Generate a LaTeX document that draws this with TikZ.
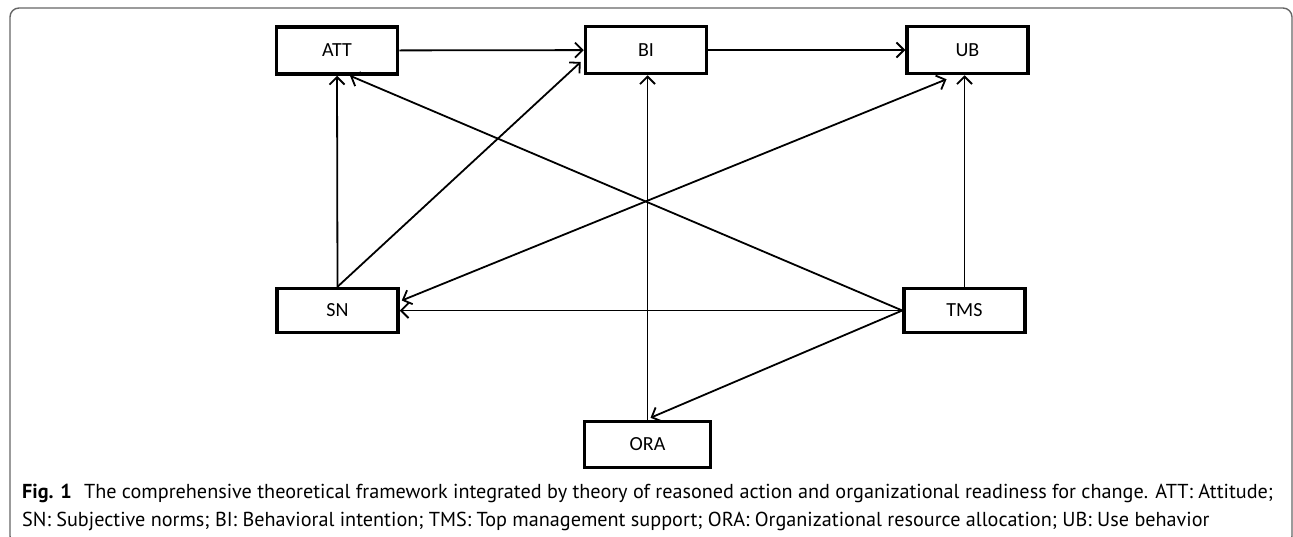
\documentclass[tikz,border=0pt]{standalone}
\usepackage{fontspec}
\setmainfont{Carlito}
\newfontfamily\capfont{PT Sans}
\usetikzlibrary{arrows.meta,calc}
\begin{document}
\begin{tikzpicture}[x=1pt,y=-1pt,
  box/.style={draw,line width=3.5pt,inner sep=0pt,minimum width=121pt,minimum height=47pt,font=\fontsize{20}{20}\selectfont},
  conn/.style={line width=1.8pt,-{Straight Barb[length=7.5pt,width=15pt,line width=1.8pt]}},
  biconn/.style={line width=1.8pt,{Straight Barb[length=7.5pt,width=15pt,line width=1.8pt]}-{Straight Barb[length=7.5pt,width=15pt,line width=1.8pt]}},
  frameline/.style={draw=black!60,line width=1.4pt,rounded corners=9pt},
  captext/.style={anchor=base west,inner sep=0pt,font=\capfont\fontsize{20.2}{20.2}\selectfont}]
\useasboundingbox (0,0) rectangle (1293,536);
\draw[frameline] (10,8) rectangle (1292,545);
\node[box] (ATT) at (337,50.5) {ATT};
\node[box] (BI) at (646,50) {BI};
\node[box] (UB) at (967.5,50) {UB};
\node[box,minimum height=44pt] (SN) at (337.5,310.5) {SN};
\node[box,minimum height=44pt] (TMS) at (964.5,310.5) {TMS};
\node[box,minimum width=126pt,minimum height=46pt] (ORA) at (647.5,444.5) {ORA};
\coordinate (X) at (647,202);
\draw[conn] (ATT) -- (BI);
\draw[conn] (BI) -- (UB);
\draw[conn] (SN.north) -- (ATT.south);
\draw[conn] (SN.north) -- ($(BI.west)+(-3,12)$);
\draw[conn] (TMS.west) -- (intersection of TMS.west--X and ATT.south west--ATT.south east);
\draw[conn] (TMS.north) -- (TMS.north |- UB.south);
\draw[conn] (TMS.west) -- (SN.east);
\draw[conn] (ORA.north) -- (ORA.north |- BI.south);
\draw[conn] (TMS.west) -- ($(ORA.north)+(3,-2)$);
\draw[biconn] ($(SN.east)+(2,-10)$) -- ($(UB.south)+(-21,4)$);
\node[captext] (c1) at (22,498) {\textbf{Fig. 1}\hspace{0.6em}The comprehensive theoretical framework integrated by theory of reasoned action and organizational readiness for change. ATT: Attitude;};
\node[captext] (c2) at (22,526) {SN: Subjective norms; BI: Behavioral intention; TMS: Top management support; ORA: Organizational resource allocation; UB: Use behavior};
\end{tikzpicture}
\end{document}
